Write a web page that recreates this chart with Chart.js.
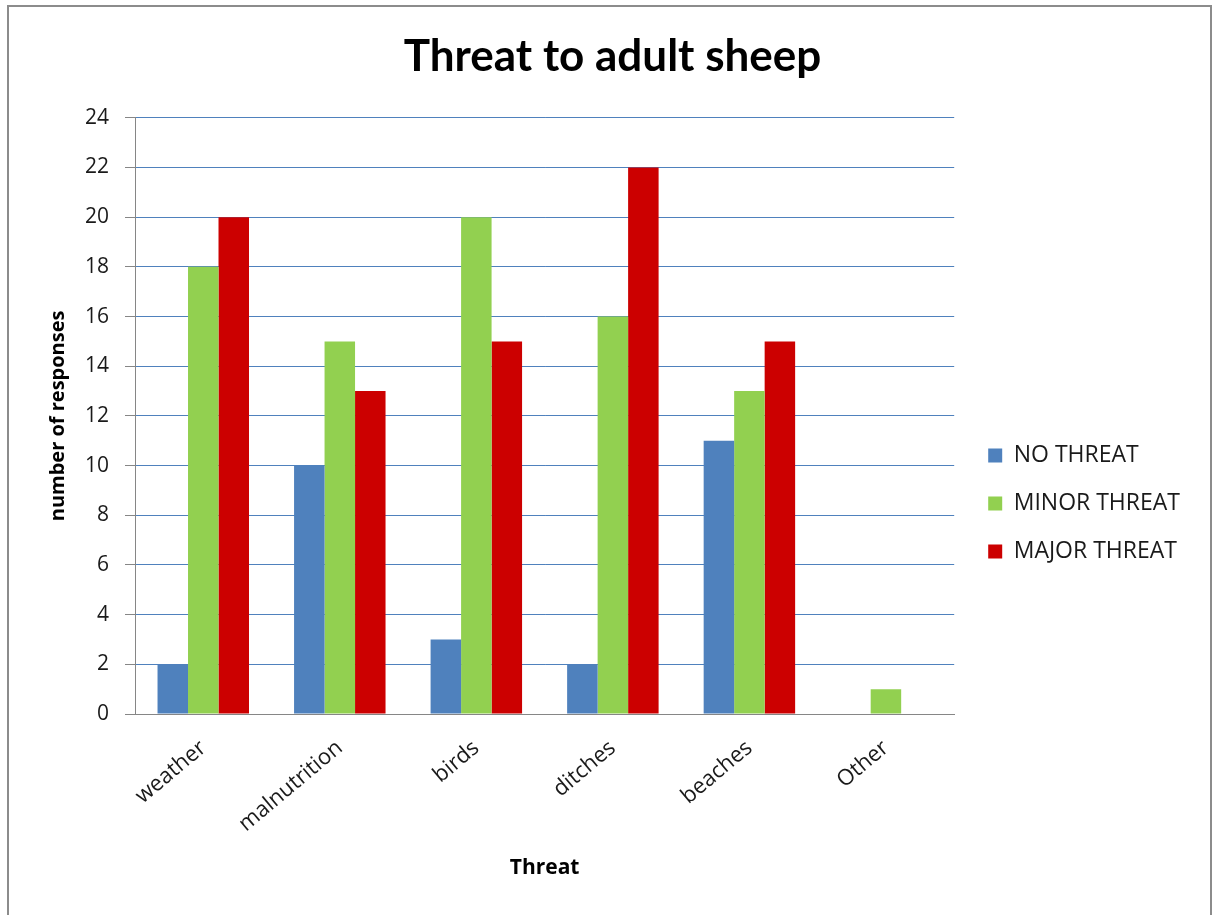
<!DOCTYPE html>
<html>
<head>
<meta charset="utf-8">
<script src="https://cdn.jsdelivr.net/npm/chart.js@4/dist/chart.umd.min.js"></script>
<style>
  html, body { margin: 0; padding: 0; background: #fff; }
  #wrap { position: relative; width: 1213px; height: 915px; overflow: hidden; }
  #frame { position: absolute; left: 7px; top: 5px; width: 1201px; height: 930px; border: 2px solid #8c8c8c; pointer-events: none; }
</style>
</head>
<body>
<div id="wrap">
  <canvas id="myChart" width="1213" height="915"></canvas>
  <div id="frame"></div>
</div>
<script>
const categories = ['weather', 'malnutrition', 'birds', 'ditches', 'beaches', 'Other'];
const noThreat = [2, 10, 3, 2, 11, 0];
const minorThreat = [18, 15, 20, 16, 13, 1];
const majorThreat = [20, 13, 15, 22, 15, 0];
const yTicks = [0, 2, 4, 6, 8, 10, 12, 14, 16, 18, 20, 22, 24];

const titleFont = 'Lato, "Open Sans", sans-serif';
const bodyFont = '"Open Sans", "Noto Sans", sans-serif';
const gridBlue = '#4f81bd';
const axisGray = '#868686';

// nudge the legend and title blocks to sit where the original had them
const blockNudge = {
  id: 'blockNudge',
  afterLayout(chart) {
    const l = chart.legend;
    l.left += 9; l.right += 9;
    l.top += 46; l.bottom += 46;
    const t = chart.titleBlock;
    t.left += 22; t.right += 22;
  }
};

const ctx = document.getElementById('myChart').getContext('2d');
const chart = new Chart(ctx, {
  type: 'bar',
  data: {
    labels: categories,
    datasets: [
      { label: 'NO THREAT', data: noThreat, backgroundColor: '#4f81bd' },
      { label: 'MINOR THREAT', data: minorThreat, backgroundColor: '#92d050' },
      { label: 'MAJOR THREAT', data: majorThreat, backgroundColor: '#cc0000' }
    ]
  },
  plugins: [blockNudge],
  options: {
    responsive: false,
    animation: false,
    layout: { padding: { left: 0, right: 32, top: 0, bottom: 0 } },
    datasets: { bar: { categoryPercentage: 0.67, barPercentage: 1.0 } },
    plugins: {
      title: {
        display: true,
        text: 'Threat to adult sheep',
        color: '#000',
        font: { family: titleFont, size: 44, weight: 'bold', lineHeight: 1.2 },
        padding: { top: 30, bottom: 35 }
      },
      legend: {
        position: 'right',
        labels: {
          color: '#1a1a1a',
          font: { family: bodyFont, size: 23 },
          boxWidth: 14,
          boxHeight: 14,
          padding: 25
        }
      },
      tooltip: { enabled: false }
    },
    scales: {
      x: {
        grid: { display: false },
        border: { display: true, color: axisGray, width: 1 },
        ticks: {
          color: '#1a1a1a',
          font: { family: bodyFont, size: 22 },
          minRotation: 40,
          maxRotation: 40,
          padding: 13
        },
        title: {
          display: true,
          text: 'Threat',
          color: '#000',
          font: { family: bodyFont, size: 21, weight: 'bold' },
          padding: { top: 0, bottom: 34 }
        },
        afterFit: (scale) => { scale.height = 201; }
      },
      y: {
        min: 0,
        max: 24,
        afterBuildTicks: (scale) => { scale.ticks = yTicks.map(v => ({ value: v })); },
        grid: {
          color: (c) => (c.tick && c.tick.value === 0 ? axisGray : gridBlue),
          tickColor: axisGray,
          tickLength: 10,
          lineWidth: 1
        },
        border: { display: true, color: axisGray, width: 1 },
        ticks: {
          color: '#1a1a1a',
          font: { family: bodyFont, size: 21 },
          padding: 16
        },
        title: {
          display: true,
          text: 'number of responses',
          color: '#000',
          font: { family: bodyFont, size: 20, weight: 'bold' },
          padding: { top: 46, bottom: 0 }
        },
        afterFit: (scale) => { scale.width = 135; }
      }
    }
  }
});
</script>
</body>
</html>
